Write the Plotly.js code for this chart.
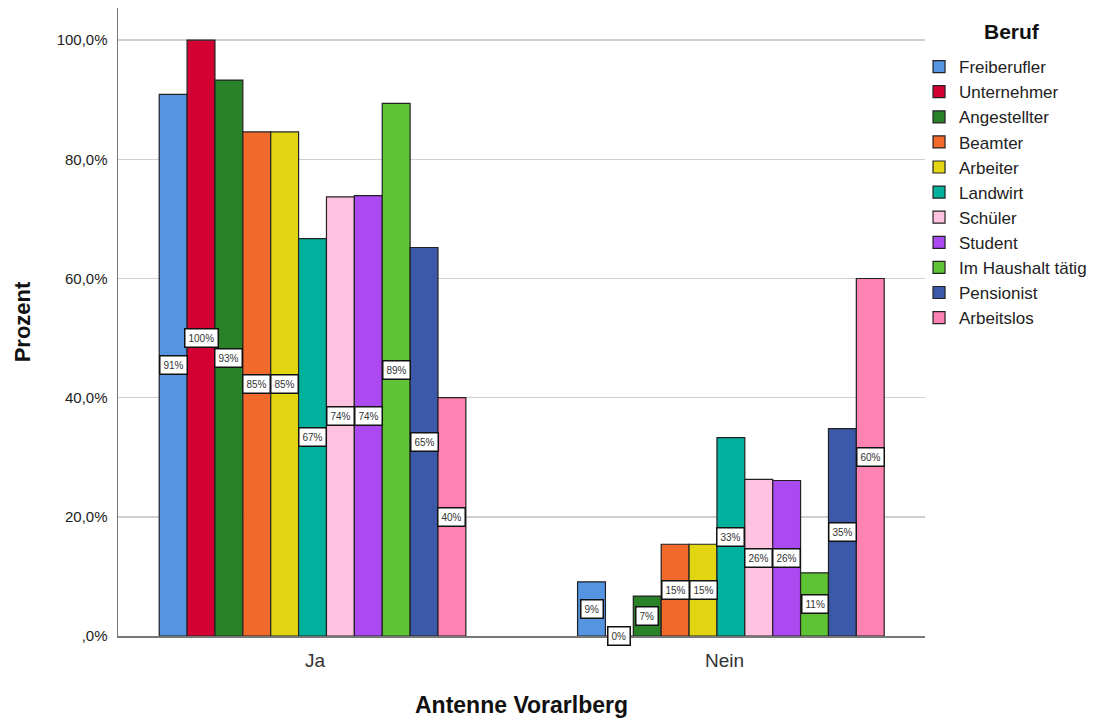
<!DOCTYPE html>
<html>
<head>
<meta charset="utf-8">
<script src="https://cdn.plot.ly/plotly-3.0.1.min.js"></script>
<style>html,body{margin:0;padding:0;background:#fff;}#chart{width:1101px;height:722px;}</style>
</head>
<body>
<div id="chart"></div>
<script>
const categories = ["Ja", "Nein"];
const berufe = ["Freiberufler", "Unternehmer", "Angestellter", "Beamter", "Arbeiter", "Landwirt", "Schüler", "Student", "Im Haushalt tätig", "Pensionist", "Arbeitslos"];
const valuesJa = [90.9, 100, 93.3, 84.6, 84.6, 66.7, 73.7, 73.9, 89.4, 65.2, 40.0];
const valuesNein = [9.1, 0, 6.7, 15.4, 15.4, 33.3, 26.3, 26.1, 10.6, 34.8, 60.0];
const colors = ["#5494E1", "#D50032", "#2A8228", "#F2692C", "#E2D612", "#00B29E", "#FFC3E1", "#AA4AF0", "#5EC435", "#3C58A8", "#FF83B2"];
const yTickVals = [0, 20, 40, 60, 80, 100];
const yTickText = [",0%", "20,0%", "40,0%", "60,0%", "80,0%", "100,0%"];

const FONT = "Liberation Sans, Arial, sans-serif";
const bargap = 0.267;
const n = berufe.length;
const groupW = 1 - bargap;
const barW = groupW / n;

const traces = berufe.map((b, i) => ({
  type: "bar",
  name: b,
  x: [0, 1],
  y: [valuesJa[i], valuesNein[i]],
  marker: {color: colors[i], line: {color: "#222", width: 1.2}},
  hoverinfo: "skip"
}));

const annotations = [];
berufe.forEach((b, i) => {
  [valuesJa[i], valuesNein[i]].forEach((v, c) => {
    annotations.push({
      x: c - groupW / 2 + barW * (i + 0.5),
      y: v / 2,
      xref: "x", yref: "y",
      text: Math.round(v) + "%",
      showarrow: false,
      font: {family: FONT, size: 10, color: "#333"},
      bgcolor: "#fff",
      bordercolor: "#111",
      borderwidth: 1.5,
      borderpad: 3
    });
  });
});
annotations.push({
  x: 1.1078, y: 0.9618, xref: "paper", yref: "paper",
  xanchor: "center", yanchor: "middle",
  text: "<b>Beruf</b>", showarrow: false,
  font: {family: FONT, size: 21, color: "#111"}
});

const layout = {
  width: 1101, height: 722,
  margin: {l: 118, r: 176, t: 8, b: 86},
  paper_bgcolor: "#fff", plot_bgcolor: "#fff",
  barmode: "group",
  bargap: bargap,
  bargroupgap: 0,
  font: {family: FONT, color: "#222"},
  showlegend: true,
  xaxis: {
    range: [-0.465, 1.464],
    tickvals: [0.006, 0.985],
    ticktext: categories,
    tickfont: {size: 19, color: "#333"},
    ticklabelstandoff: 7,
    showline: true, linecolor: "#777", linewidth: 1.5,
    ticks: "", showgrid: false, zeroline: false,
    title: {text: "<b>Antenne Vorarlberg</b>", font: {size: 23, color: "#111"}, standoff: 26}
  },
  yaxis: {
    range: [0, 105.4],
    tickvals: yTickVals,
    ticktext: yTickText,
    tickfont: {size: 15, color: "#222"},
    ticklabelstandoff: 6,
    showline: true, linecolor: "#777", linewidth: 1.5,
    showgrid: true, gridcolor: "#cfcfcf", gridwidth: 1.5,
    zeroline: false, ticks: "",
    title: {text: "<b>Prozent</b>", font: {size: 22, color: "#111"}, standoff: 20}
  },
  legend: {
    x: 0.9926, xanchor: "left", y: 0.9346, yanchor: "top",
    font: {size: 17, color: "#222"},
    itemwidth: 30,
    tracegroupgap: 0,
    traceorder: "normal",
    bgcolor: "rgba(0,0,0,0)"
  },
  annotations: annotations
};

Plotly.newPlot("chart", traces, layout, {displayModeBar: false, staticPlot: true});
</script>
</body>
</html>
